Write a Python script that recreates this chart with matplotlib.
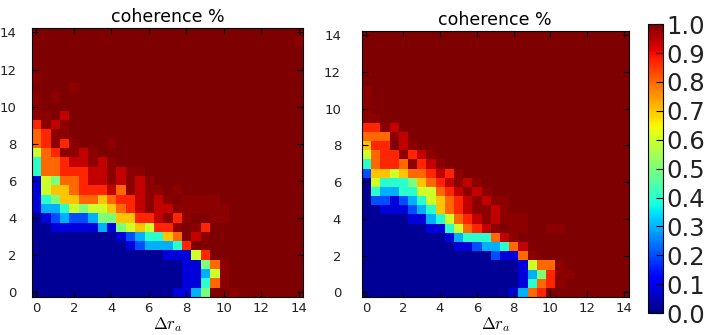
import numpy as np
import matplotlib
matplotlib.use("Agg")
import matplotlib.pyplot as plt

plt.rcParams["mathtext.fontset"] = "cm"

# coherence value for each cell code
levels = {"0": 0.02, "1": 0.08, "2": 0.2, "3": 0.3, "4": 0.4, "5": 0.5,
          "6": 0.6, "7": 0.7, "8": 0.8, "9": 0.87, "a": 0.94, "b": 0.985,
          ".": 1.0}

n_cells = 29  # 0 .. 14 in steps of 0.5

# one string per row, from y=14 (top) down to y=0, x=0 on the left;
# cells after the end of a string are 1.0
left_rows = [
    "", "............................b", "", "", "",
    "b",
    "....b",
    "b.b",
    "b",
    "bb.a",
    "9bab",
    "89bb",
    "89b9b...b",
    "689bbab",
    "4889aabab",
    "488999aababb",
    "165889aababab",
    "16778999a8babb.b",
    "14577887899abab.bbbb",
    "13346566789abaabbbbbb",
    "0123223557799ab9b..bb",
    "001111131567699b.b9",
    "0" * 9 + "1234478.ab",
    "0" * 10 + "1233349",
    "0" * 14 + "11169",
    "0" * 16 + "1158b",
    "0" * 16 + "1136b",
    "0" * 16 + "1148b",
    "0" * 15 + "1135..b",
]

right_rows = [
    "", "", "", "", "", "",
    "b",
    "b",
    "b",
    "bb",
    "99ba",
    "888ba",
    "799.ab",
    "6899b9ab",
    "48998b9ab",
    "27767889a9b",
    "064445789abab",
    "0433446689abab",
    "02212346789ababb",
    "00111234789abbab",
    "000001134689ababbb",
    "0000000114689ab.bb..bb",
    "0" * 9 + "134448ab",
    "0" * 10 + "1123348a",
    "0" * 14 + "2118b",
    "0" * 17 + "1688b",
    "0" * 17 + "1359bb",
    "0" * 17 + "1489b",
    "0" * 16 + "1389",
]

axis_ticks = [0, 2, 4, 6, 8, 10, 12, 14]
cbar_ticks = [0.0, 0.1, 0.2, 0.3, 0.4, 0.5, 0.6, 0.7, 0.8, 0.9, 1.0]
panel_title = "coherence %"
x_label = r"$\Delta r_a$"


def to_grid(rows):
    grid = [[levels[c] for c in r.ljust(n_cells, ".")] for r in rows]
    return np.array(grid)[::-1]


fig = plt.figure(figsize=(7.04, 3.35), dpi=100)
ax1 = fig.add_axes([0.045, 0.114, 0.386, 0.803])
ax2 = fig.add_axes([0.514, 0.114, 0.379, 0.794])
cax = fig.add_axes([0.921, 0.065, 0.0213, 0.863])

for ax, rows, ypad in ((ax1, left_rows, 11), (ax2, right_rows, 15)):
    im = ax.imshow(to_grid(rows), cmap="jet", vmin=0, vmax=1, origin="lower",
                   extent=(-0.25, 14.25, -0.25, 14.25),
                   interpolation="nearest", aspect="auto")
    ax.set_xticks(axis_ticks)
    ax.set_yticks(axis_ticks)
    ax.tick_params(direction="in", top=True, right=True, labelsize=9.5,
                   length=4, colors="black", labelcolor="#222222")
    ax.tick_params(axis="x", pad=3.5)
    ax.tick_params(axis="y", pad=ypad)
    ax.set_title(panel_title, fontsize=12.5, pad=4)
    ax.set_xlabel(x_label, fontsize=12, labelpad=0)

cb = fig.colorbar(im, cax=cax, ticks=cbar_ticks)
cb.ax.tick_params(labelsize=17.5, direction="in", length=5, pad=2,
                  labelcolor="#222222")
cb.outline.set_linewidth(0.8)

fig.savefig("out.png", dpi=100)
